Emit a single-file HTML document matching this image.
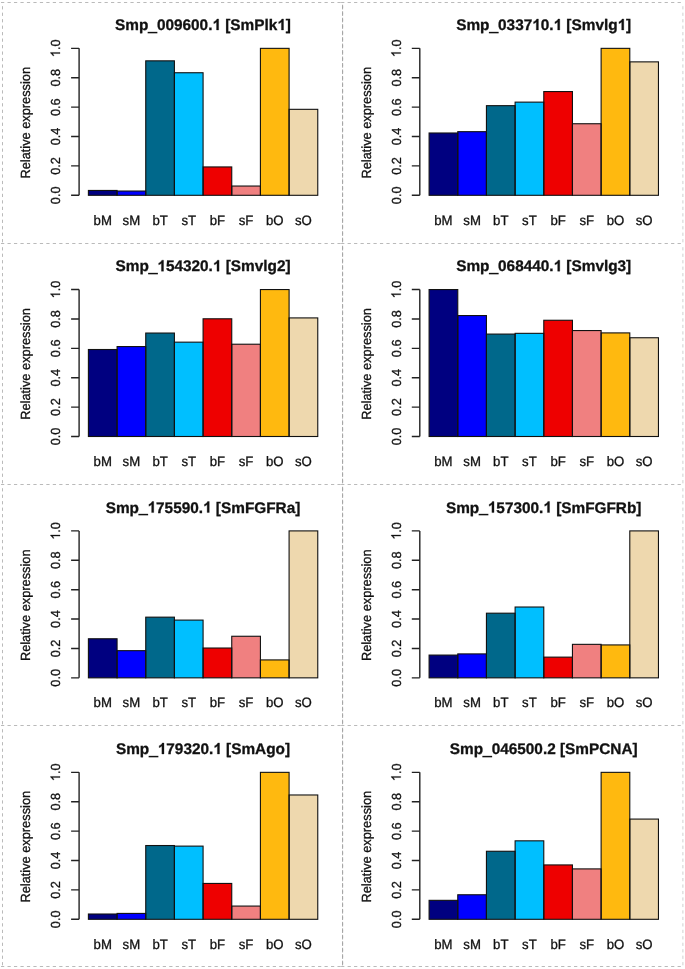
<!DOCTYPE html>
<html><head><meta charset="utf-8"><title>Relative expression</title>
<style>
html,body{margin:0;padding:0;background:#fff;}
svg{display:block;will-change:transform;text-rendering:geometricPrecision;font-family:"Liberation Sans",sans-serif;}
text{fill:#111;stroke:#111;stroke-width:0.3px;}
.g1{fill:#111;stroke:#111;}
</style></head><body>
<svg width="685" height="969" viewBox="0 0 685 969">
<rect width="685" height="969" fill="#fff"/>
<path d="M1.03 2.5H342.6" stroke="#bababa" stroke-width="1" stroke-dasharray="3.235 3.235" fill="none"/>
<path d="M341.13 2.5H682.9" stroke="#bababa" stroke-width="1" stroke-dasharray="3.235 3.235" fill="none"/>
<path d="M1.03 243.5H342.6" stroke="#bababa" stroke-width="1" stroke-dasharray="3.235 3.235" fill="none"/>
<path d="M341.13 243.5H682.9" stroke="#bababa" stroke-width="1" stroke-dasharray="3.235 3.235" fill="none"/>
<path d="M1.03 484.5H342.6" stroke="#bababa" stroke-width="1" stroke-dasharray="3.235 3.235" fill="none"/>
<path d="M341.13 484.5H682.9" stroke="#bababa" stroke-width="1" stroke-dasharray="3.235 3.235" fill="none"/>
<path d="M1.03 725.5H342.6" stroke="#bababa" stroke-width="1" stroke-dasharray="3.235 3.235" fill="none"/>
<path d="M341.13 725.5H682.9" stroke="#bababa" stroke-width="1" stroke-dasharray="3.235 3.235" fill="none"/>
<path d="M1.03 966.5H342.6" stroke="#bababa" stroke-width="1" stroke-dasharray="3.235 3.235" fill="none"/>
<path d="M341.13 966.5H682.9" stroke="#bababa" stroke-width="1" stroke-dasharray="3.235 3.235" fill="none"/>
<path d="M2.5 6.18V243.5" stroke="#bababa" stroke-width="1" stroke-dasharray="3.235 3.235" fill="none"/>
<path d="M342.6 6.18V243.5" stroke="#a4a4a4" stroke-width="1" stroke-dasharray="3.235 3.235" fill="none"/>
<path d="M342.6 4.78V243.5" stroke="#a4a4a4" stroke-width="1" stroke-dasharray="3.235 3.235" fill="none"/>
<path d="M682.9 6.18V243.5" stroke="#d0d0d0" stroke-width="1" stroke-dasharray="3.235 3.235" fill="none"/>
<path d="M2.5 247.18V484.5" stroke="#bababa" stroke-width="1" stroke-dasharray="3.235 3.235" fill="none"/>
<path d="M342.6 247.18V484.5" stroke="#a4a4a4" stroke-width="1" stroke-dasharray="3.235 3.235" fill="none"/>
<path d="M342.6 245.78V484.5" stroke="#a4a4a4" stroke-width="1" stroke-dasharray="3.235 3.235" fill="none"/>
<path d="M682.9 247.18V484.5" stroke="#d0d0d0" stroke-width="1" stroke-dasharray="3.235 3.235" fill="none"/>
<path d="M2.5 488.18V725.5" stroke="#bababa" stroke-width="1" stroke-dasharray="3.235 3.235" fill="none"/>
<path d="M342.6 488.18V725.5" stroke="#a4a4a4" stroke-width="1" stroke-dasharray="3.235 3.235" fill="none"/>
<path d="M342.6 486.78V725.5" stroke="#a4a4a4" stroke-width="1" stroke-dasharray="3.235 3.235" fill="none"/>
<path d="M682.9 488.18V725.5" stroke="#d0d0d0" stroke-width="1" stroke-dasharray="3.235 3.235" fill="none"/>
<path d="M2.5 729.18V966.5" stroke="#bababa" stroke-width="1" stroke-dasharray="3.235 3.235" fill="none"/>
<path d="M342.6 729.18V966.5" stroke="#a4a4a4" stroke-width="1" stroke-dasharray="3.235 3.235" fill="none"/>
<path d="M342.6 727.78V966.5" stroke="#a4a4a4" stroke-width="1" stroke-dasharray="3.235 3.235" fill="none"/>
<path d="M682.9 729.18V966.5" stroke="#d0d0d0" stroke-width="1" stroke-dasharray="3.235 3.235" fill="none"/>
<rect x="88.4" y="190.45" width="28.67" height="4.85" fill="#000080"/>
<rect x="117.07" y="191.04" width="28.67" height="4.26" fill="#0000FF"/>
<rect x="145.74" y="60.84" width="28.67" height="134.46" fill="#00688B"/>
<rect x="174.41" y="72.74" width="28.67" height="122.56" fill="#00BFFF"/>
<rect x="203.08" y="166.94" width="28.67" height="28.36" fill="#EE0000"/>
<rect x="231.75" y="186.04" width="28.67" height="9.26" fill="#F08080"/>
<rect x="260.42" y="48.35" width="28.67" height="146.95" fill="#FFB90F"/>
<rect x="289.09" y="109.33" width="28.67" height="85.97" fill="#EED8AE"/>
<rect x="88.4" y="190.45" width="28.67" height="4.85" fill="none" stroke="#111" stroke-width="1.1"/>
<rect x="117.07" y="191.04" width="28.67" height="4.26" fill="none" stroke="#111" stroke-width="1.1"/>
<rect x="145.74" y="60.84" width="28.67" height="134.46" fill="none" stroke="#111" stroke-width="1.1"/>
<rect x="174.41" y="72.74" width="28.67" height="122.56" fill="none" stroke="#111" stroke-width="1.1"/>
<rect x="203.08" y="166.94" width="28.67" height="28.36" fill="none" stroke="#111" stroke-width="1.1"/>
<rect x="231.75" y="186.04" width="28.67" height="9.26" fill="none" stroke="#111" stroke-width="1.1"/>
<rect x="260.42" y="48.35" width="28.67" height="146.95" fill="none" stroke="#111" stroke-width="1.1"/>
<rect x="289.09" y="109.33" width="28.67" height="85.97" fill="none" stroke="#111" stroke-width="1.1"/>
<path d="M79.1 195.3V48.35" stroke="#222" stroke-width="1.4" fill="none"/>
<path d="M71.1 195.3H79.1M71.1 165.91H79.1M71.1 136.52H79.1M71.1 107.13H79.1M71.1 77.74H79.1M71.1 48.35H79.1" stroke="#222" stroke-width="1.4" fill="none"/>
<g transform="translate(60,195.3) rotate(-90) scale(1,1.035)"><text x="-8.83" y="0" font-size="12.7">0.0</text></g>
<g transform="translate(60,165.91) rotate(-90) scale(1,1.035)"><text x="-8.83" y="0" font-size="12.7">0.2</text></g>
<g transform="translate(60,136.52) rotate(-90) scale(1,1.035)"><text x="-8.83" y="0" font-size="12.7">0.4</text></g>
<g transform="translate(60,107.13) rotate(-90) scale(1,1.035)"><text x="-8.83" y="0" font-size="12.7">0.6</text></g>
<g transform="translate(60,77.74) rotate(-90) scale(1,1.035)"><text x="-8.83" y="0" font-size="12.7">0.8</text></g>
<g transform="translate(60,48.35) rotate(-90) scale(1,1.035)"><text x="-8.83" y="0" font-size="12.7"> .0</text><path transform="translate(-8.83,0) scale(0.006201,-0.006201)" d="M763 0H583V1147Q518 1085 412 1023Q307 961 223 930V1104Q374 1175 487 1276Q600 1377 647 1472H763Z" class="g1" style="stroke-width:48.4px"/></g>
<g transform="translate(30,122.73) rotate(-90) scale(1,1.035)"><text x="-55.85" y="0" font-size="12.8">Relative expression</text></g>
<g transform="translate(102.74,224.8) scale(1,1.035)"><text x="-9.17" y="0" font-size="13.2">bM</text></g>
<g transform="translate(131.41,224.8) scale(1,1.035)"><text x="-8.8" y="0" font-size="13.2">sM</text></g>
<g transform="translate(160.08,224.8) scale(1,1.035)"><text x="-7.7" y="0" font-size="13.2">bT</text></g>
<g transform="translate(188.75,224.8) scale(1,1.035)"><text x="-7.33" y="0" font-size="13.2">sT</text></g>
<g transform="translate(217.42,224.8) scale(1,1.035)"><text x="-7.7" y="0" font-size="13.2">bF</text></g>
<g transform="translate(246.09,224.8) scale(1,1.035)"><text x="-7.33" y="0" font-size="13.2">sF</text></g>
<g transform="translate(274.75,224.8) scale(1,1.035)"><text x="-8.8" y="0" font-size="13.2">bO</text></g>
<g transform="translate(303.43,224.8) scale(1,1.035)"><text x="-8.43" y="0" font-size="13.2">sO</text></g>
<g transform="translate(203,30) scale(1,1.0)"><text x="-87.94" y="0" font-size="15.36" font-weight="bold">Smp<tspan dy="0.9" style="stroke-width:0.9px">_</tspan><tspan dy="-0.9">009600.  [SmPlk ]</tspan></text><path transform="translate(9.41,0) scale(0.007500,-0.007500)" d="M831 0H550V1059Q396 915 187 846V1101Q297 1137 426 1237Q555 1337 603 1470H831Z" class="g1" style="stroke-width:40.0px"/><path transform="translate(74.29,0) scale(0.007500,-0.007500)" d="M831 0H550V1059Q396 915 187 846V1101Q297 1137 426 1237Q555 1337 603 1470H831Z" class="g1" style="stroke-width:40.0px"/></g>
<rect x="429.1" y="132.99" width="28.67" height="62.31" fill="#000080"/>
<rect x="457.77" y="131.67" width="28.67" height="63.63" fill="#0000FF"/>
<rect x="486.44" y="105.66" width="28.67" height="89.64" fill="#00688B"/>
<rect x="515.11" y="102.13" width="28.67" height="93.17" fill="#00BFFF"/>
<rect x="543.78" y="91.55" width="28.67" height="103.75" fill="#EE0000"/>
<rect x="572.45" y="123.74" width="28.67" height="71.56" fill="#F08080"/>
<rect x="601.12" y="48.35" width="28.67" height="146.95" fill="#FFB90F"/>
<rect x="629.79" y="61.87" width="28.67" height="133.43" fill="#EED8AE"/>
<rect x="429.1" y="132.99" width="28.67" height="62.31" fill="none" stroke="#111" stroke-width="1.1"/>
<rect x="457.77" y="131.67" width="28.67" height="63.63" fill="none" stroke="#111" stroke-width="1.1"/>
<rect x="486.44" y="105.66" width="28.67" height="89.64" fill="none" stroke="#111" stroke-width="1.1"/>
<rect x="515.11" y="102.13" width="28.67" height="93.17" fill="none" stroke="#111" stroke-width="1.1"/>
<rect x="543.78" y="91.55" width="28.67" height="103.75" fill="none" stroke="#111" stroke-width="1.1"/>
<rect x="572.45" y="123.74" width="28.67" height="71.56" fill="none" stroke="#111" stroke-width="1.1"/>
<rect x="601.12" y="48.35" width="28.67" height="146.95" fill="none" stroke="#111" stroke-width="1.1"/>
<rect x="629.79" y="61.87" width="28.67" height="133.43" fill="none" stroke="#111" stroke-width="1.1"/>
<path d="M419.8 195.3V48.35" stroke="#222" stroke-width="1.4" fill="none"/>
<path d="M411.8 195.3H419.8M411.8 165.91H419.8M411.8 136.52H419.8M411.8 107.13H419.8M411.8 77.74H419.8M411.8 48.35H419.8" stroke="#222" stroke-width="1.4" fill="none"/>
<g transform="translate(400.7,195.3) rotate(-90) scale(1,1.035)"><text x="-8.83" y="0" font-size="12.7">0.0</text></g>
<g transform="translate(400.7,165.91) rotate(-90) scale(1,1.035)"><text x="-8.83" y="0" font-size="12.7">0.2</text></g>
<g transform="translate(400.7,136.52) rotate(-90) scale(1,1.035)"><text x="-8.83" y="0" font-size="12.7">0.4</text></g>
<g transform="translate(400.7,107.13) rotate(-90) scale(1,1.035)"><text x="-8.83" y="0" font-size="12.7">0.6</text></g>
<g transform="translate(400.7,77.74) rotate(-90) scale(1,1.035)"><text x="-8.83" y="0" font-size="12.7">0.8</text></g>
<g transform="translate(400.7,48.35) rotate(-90) scale(1,1.035)"><text x="-8.83" y="0" font-size="12.7"> .0</text><path transform="translate(-8.83,0) scale(0.006201,-0.006201)" d="M763 0H583V1147Q518 1085 412 1023Q307 961 223 930V1104Q374 1175 487 1276Q600 1377 647 1472H763Z" class="g1" style="stroke-width:48.4px"/></g>
<g transform="translate(370.7,122.73) rotate(-90) scale(1,1.035)"><text x="-55.85" y="0" font-size="12.8">Relative expression</text></g>
<g transform="translate(443.44,224.8) scale(1,1.035)"><text x="-9.17" y="0" font-size="13.2">bM</text></g>
<g transform="translate(472.11,224.8) scale(1,1.035)"><text x="-8.8" y="0" font-size="13.2">sM</text></g>
<g transform="translate(500.78,224.8) scale(1,1.035)"><text x="-7.7" y="0" font-size="13.2">bT</text></g>
<g transform="translate(529.45,224.8) scale(1,1.035)"><text x="-7.33" y="0" font-size="13.2">sT</text></g>
<g transform="translate(558.12,224.8) scale(1,1.035)"><text x="-7.7" y="0" font-size="13.2">bF</text></g>
<g transform="translate(586.79,224.8) scale(1,1.035)"><text x="-7.33" y="0" font-size="13.2">sF</text></g>
<g transform="translate(615.46,224.8) scale(1,1.035)"><text x="-8.8" y="0" font-size="13.2">bO</text></g>
<g transform="translate(644.12,224.8) scale(1,1.035)"><text x="-8.43" y="0" font-size="13.2">sO</text></g>
<g transform="translate(543.7,30) scale(1,1.0)"><text x="-87.51" y="0" font-size="15.36" font-weight="bold">Smp<tspan dy="0.9" style="stroke-width:0.9px">_</tspan><tspan dy="-0.9">0337 0.  [Smvlg ]</tspan></text><path transform="translate(-11.52,0) scale(0.007500,-0.007500)" d="M831 0H550V1059Q396 915 187 846V1101Q297 1137 426 1237Q555 1337 603 1470H831Z" class="g1" style="stroke-width:40.0px"/><path transform="translate(9.84,0) scale(0.007500,-0.007500)" d="M831 0H550V1059Q396 915 187 846V1101Q297 1137 426 1237Q555 1337 603 1470H831Z" class="g1" style="stroke-width:40.0px"/><path transform="translate(73.86,0) scale(0.007500,-0.007500)" d="M831 0H550V1059Q396 915 187 846V1101Q297 1137 426 1237Q555 1337 603 1470H831Z" class="g1" style="stroke-width:40.0px"/></g>
<rect x="88.4" y="349.51" width="28.67" height="86.99" fill="#000080"/>
<rect x="117.07" y="346.57" width="28.67" height="89.93" fill="#0000FF"/>
<rect x="145.74" y="333.05" width="28.67" height="103.45" fill="#00688B"/>
<rect x="174.41" y="342.16" width="28.67" height="94.34" fill="#00BFFF"/>
<rect x="203.08" y="318.79" width="28.67" height="117.71" fill="#EE0000"/>
<rect x="231.75" y="344.22" width="28.67" height="92.28" fill="#F08080"/>
<rect x="260.42" y="289.55" width="28.67" height="146.95" fill="#FFB90F"/>
<rect x="289.09" y="317.91" width="28.67" height="118.59" fill="#EED8AE"/>
<rect x="88.4" y="349.51" width="28.67" height="86.99" fill="none" stroke="#111" stroke-width="1.1"/>
<rect x="117.07" y="346.57" width="28.67" height="89.93" fill="none" stroke="#111" stroke-width="1.1"/>
<rect x="145.74" y="333.05" width="28.67" height="103.45" fill="none" stroke="#111" stroke-width="1.1"/>
<rect x="174.41" y="342.16" width="28.67" height="94.34" fill="none" stroke="#111" stroke-width="1.1"/>
<rect x="203.08" y="318.79" width="28.67" height="117.71" fill="none" stroke="#111" stroke-width="1.1"/>
<rect x="231.75" y="344.22" width="28.67" height="92.28" fill="none" stroke="#111" stroke-width="1.1"/>
<rect x="260.42" y="289.55" width="28.67" height="146.95" fill="none" stroke="#111" stroke-width="1.1"/>
<rect x="289.09" y="317.91" width="28.67" height="118.59" fill="none" stroke="#111" stroke-width="1.1"/>
<path d="M79.1 436.5V289.55" stroke="#222" stroke-width="1.4" fill="none"/>
<path d="M71.1 436.5H79.1M71.1 407.11H79.1M71.1 377.72H79.1M71.1 348.33H79.1M71.1 318.94H79.1M71.1 289.55H79.1" stroke="#222" stroke-width="1.4" fill="none"/>
<g transform="translate(60,436.5) rotate(-90) scale(1,1.035)"><text x="-8.83" y="0" font-size="12.7">0.0</text></g>
<g transform="translate(60,407.11) rotate(-90) scale(1,1.035)"><text x="-8.83" y="0" font-size="12.7">0.2</text></g>
<g transform="translate(60,377.72) rotate(-90) scale(1,1.035)"><text x="-8.83" y="0" font-size="12.7">0.4</text></g>
<g transform="translate(60,348.33) rotate(-90) scale(1,1.035)"><text x="-8.83" y="0" font-size="12.7">0.6</text></g>
<g transform="translate(60,318.94) rotate(-90) scale(1,1.035)"><text x="-8.83" y="0" font-size="12.7">0.8</text></g>
<g transform="translate(60,289.55) rotate(-90) scale(1,1.035)"><text x="-8.83" y="0" font-size="12.7"> .0</text><path transform="translate(-8.83,0) scale(0.006201,-0.006201)" d="M763 0H583V1147Q518 1085 412 1023Q307 961 223 930V1104Q374 1175 487 1276Q600 1377 647 1472H763Z" class="g1" style="stroke-width:48.4px"/></g>
<g transform="translate(30,363.92) rotate(-90) scale(1,1.035)"><text x="-55.85" y="0" font-size="12.8">Relative expression</text></g>
<g transform="translate(102.74,466) scale(1,1.035)"><text x="-9.17" y="0" font-size="13.2">bM</text></g>
<g transform="translate(131.41,466) scale(1,1.035)"><text x="-8.8" y="0" font-size="13.2">sM</text></g>
<g transform="translate(160.08,466) scale(1,1.035)"><text x="-7.7" y="0" font-size="13.2">bT</text></g>
<g transform="translate(188.75,466) scale(1,1.035)"><text x="-7.33" y="0" font-size="13.2">sT</text></g>
<g transform="translate(217.42,466) scale(1,1.035)"><text x="-7.7" y="0" font-size="13.2">bF</text></g>
<g transform="translate(246.09,466) scale(1,1.035)"><text x="-7.33" y="0" font-size="13.2">sF</text></g>
<g transform="translate(274.75,466) scale(1,1.035)"><text x="-8.8" y="0" font-size="13.2">bO</text></g>
<g transform="translate(303.43,466) scale(1,1.035)"><text x="-8.43" y="0" font-size="13.2">sO</text></g>
<g transform="translate(203,271.2) scale(1,1.0)"><text x="-87.51" y="0" font-size="15.36" font-weight="bold">Smp<tspan dy="0.9" style="stroke-width:0.9px">_</tspan><tspan dy="-0.9"> 54320.  [Smvlg2]</tspan></text><path transform="translate(-45.69,0) scale(0.007500,-0.007500)" d="M831 0H550V1059Q396 915 187 846V1101Q297 1137 426 1237Q555 1337 603 1470H831Z" class="g1" style="stroke-width:40.0px"/><path transform="translate(9.84,0) scale(0.007500,-0.007500)" d="M831 0H550V1059Q396 915 187 846V1101Q297 1137 426 1237Q555 1337 603 1470H831Z" class="g1" style="stroke-width:40.0px"/></g>
<rect x="429.1" y="289.55" width="28.67" height="146.95" fill="#000080"/>
<rect x="457.77" y="315.56" width="28.67" height="120.94" fill="#0000FF"/>
<rect x="486.44" y="334.08" width="28.67" height="102.42" fill="#00688B"/>
<rect x="515.11" y="333.34" width="28.67" height="103.16" fill="#00BFFF"/>
<rect x="543.78" y="320.26" width="28.67" height="116.24" fill="#EE0000"/>
<rect x="572.45" y="330.55" width="28.67" height="105.95" fill="#F08080"/>
<rect x="601.12" y="332.9" width="28.67" height="103.6" fill="#FFB90F"/>
<rect x="629.79" y="337.75" width="28.67" height="98.75" fill="#EED8AE"/>
<rect x="429.1" y="289.55" width="28.67" height="146.95" fill="none" stroke="#111" stroke-width="1.1"/>
<rect x="457.77" y="315.56" width="28.67" height="120.94" fill="none" stroke="#111" stroke-width="1.1"/>
<rect x="486.44" y="334.08" width="28.67" height="102.42" fill="none" stroke="#111" stroke-width="1.1"/>
<rect x="515.11" y="333.34" width="28.67" height="103.16" fill="none" stroke="#111" stroke-width="1.1"/>
<rect x="543.78" y="320.26" width="28.67" height="116.24" fill="none" stroke="#111" stroke-width="1.1"/>
<rect x="572.45" y="330.55" width="28.67" height="105.95" fill="none" stroke="#111" stroke-width="1.1"/>
<rect x="601.12" y="332.9" width="28.67" height="103.6" fill="none" stroke="#111" stroke-width="1.1"/>
<rect x="629.79" y="337.75" width="28.67" height="98.75" fill="none" stroke="#111" stroke-width="1.1"/>
<path d="M419.8 436.5V289.55" stroke="#222" stroke-width="1.4" fill="none"/>
<path d="M411.8 436.5H419.8M411.8 407.11H419.8M411.8 377.72H419.8M411.8 348.33H419.8M411.8 318.94H419.8M411.8 289.55H419.8" stroke="#222" stroke-width="1.4" fill="none"/>
<g transform="translate(400.7,436.5) rotate(-90) scale(1,1.035)"><text x="-8.83" y="0" font-size="12.7">0.0</text></g>
<g transform="translate(400.7,407.11) rotate(-90) scale(1,1.035)"><text x="-8.83" y="0" font-size="12.7">0.2</text></g>
<g transform="translate(400.7,377.72) rotate(-90) scale(1,1.035)"><text x="-8.83" y="0" font-size="12.7">0.4</text></g>
<g transform="translate(400.7,348.33) rotate(-90) scale(1,1.035)"><text x="-8.83" y="0" font-size="12.7">0.6</text></g>
<g transform="translate(400.7,318.94) rotate(-90) scale(1,1.035)"><text x="-8.83" y="0" font-size="12.7">0.8</text></g>
<g transform="translate(400.7,289.55) rotate(-90) scale(1,1.035)"><text x="-8.83" y="0" font-size="12.7"> .0</text><path transform="translate(-8.83,0) scale(0.006201,-0.006201)" d="M763 0H583V1147Q518 1085 412 1023Q307 961 223 930V1104Q374 1175 487 1276Q600 1377 647 1472H763Z" class="g1" style="stroke-width:48.4px"/></g>
<g transform="translate(370.7,363.92) rotate(-90) scale(1,1.035)"><text x="-55.85" y="0" font-size="12.8">Relative expression</text></g>
<g transform="translate(443.44,466) scale(1,1.035)"><text x="-9.17" y="0" font-size="13.2">bM</text></g>
<g transform="translate(472.11,466) scale(1,1.035)"><text x="-8.8" y="0" font-size="13.2">sM</text></g>
<g transform="translate(500.78,466) scale(1,1.035)"><text x="-7.7" y="0" font-size="13.2">bT</text></g>
<g transform="translate(529.45,466) scale(1,1.035)"><text x="-7.33" y="0" font-size="13.2">sT</text></g>
<g transform="translate(558.12,466) scale(1,1.035)"><text x="-7.7" y="0" font-size="13.2">bF</text></g>
<g transform="translate(586.79,466) scale(1,1.035)"><text x="-7.33" y="0" font-size="13.2">sF</text></g>
<g transform="translate(615.46,466) scale(1,1.035)"><text x="-8.8" y="0" font-size="13.2">bO</text></g>
<g transform="translate(644.12,466) scale(1,1.035)"><text x="-8.43" y="0" font-size="13.2">sO</text></g>
<g transform="translate(543.7,271.2) scale(1,1.0)"><text x="-87.51" y="0" font-size="15.36" font-weight="bold">Smp<tspan dy="0.9" style="stroke-width:0.9px">_</tspan><tspan dy="-0.9">068440.  [Smvlg3]</tspan></text><path transform="translate(9.84,0) scale(0.007500,-0.007500)" d="M831 0H550V1059Q396 915 187 846V1101Q297 1137 426 1237Q555 1337 603 1470H831Z" class="g1" style="stroke-width:40.0px"/></g>
<rect x="88.4" y="638.76" width="28.67" height="39.09" fill="#000080"/>
<rect x="117.07" y="650.66" width="28.67" height="27.19" fill="#0000FF"/>
<rect x="145.74" y="617.16" width="28.67" height="60.69" fill="#00688B"/>
<rect x="174.41" y="620.1" width="28.67" height="57.75" fill="#00BFFF"/>
<rect x="203.08" y="648.02" width="28.67" height="29.83" fill="#EE0000"/>
<rect x="231.75" y="636.26" width="28.67" height="41.59" fill="#F08080"/>
<rect x="260.42" y="659.92" width="28.67" height="17.93" fill="#FFB90F"/>
<rect x="289.09" y="530.9" width="28.67" height="146.95" fill="#EED8AE"/>
<rect x="88.4" y="638.76" width="28.67" height="39.09" fill="none" stroke="#111" stroke-width="1.1"/>
<rect x="117.07" y="650.66" width="28.67" height="27.19" fill="none" stroke="#111" stroke-width="1.1"/>
<rect x="145.74" y="617.16" width="28.67" height="60.69" fill="none" stroke="#111" stroke-width="1.1"/>
<rect x="174.41" y="620.1" width="28.67" height="57.75" fill="none" stroke="#111" stroke-width="1.1"/>
<rect x="203.08" y="648.02" width="28.67" height="29.83" fill="none" stroke="#111" stroke-width="1.1"/>
<rect x="231.75" y="636.26" width="28.67" height="41.59" fill="none" stroke="#111" stroke-width="1.1"/>
<rect x="260.42" y="659.92" width="28.67" height="17.93" fill="none" stroke="#111" stroke-width="1.1"/>
<rect x="289.09" y="530.9" width="28.67" height="146.95" fill="none" stroke="#111" stroke-width="1.1"/>
<path d="M79.1 677.85V530.9" stroke="#222" stroke-width="1.4" fill="none"/>
<path d="M71.1 677.85H79.1M71.1 648.46H79.1M71.1 619.07H79.1M71.1 589.68H79.1M71.1 560.29H79.1M71.1 530.9H79.1" stroke="#222" stroke-width="1.4" fill="none"/>
<g transform="translate(60,677.85) rotate(-90) scale(1,1.035)"><text x="-8.83" y="0" font-size="12.7">0.0</text></g>
<g transform="translate(60,648.46) rotate(-90) scale(1,1.035)"><text x="-8.83" y="0" font-size="12.7">0.2</text></g>
<g transform="translate(60,619.07) rotate(-90) scale(1,1.035)"><text x="-8.83" y="0" font-size="12.7">0.4</text></g>
<g transform="translate(60,589.68) rotate(-90) scale(1,1.035)"><text x="-8.83" y="0" font-size="12.7">0.6</text></g>
<g transform="translate(60,560.29) rotate(-90) scale(1,1.035)"><text x="-8.83" y="0" font-size="12.7">0.8</text></g>
<g transform="translate(60,530.9) rotate(-90) scale(1,1.035)"><text x="-8.83" y="0" font-size="12.7"> .0</text><path transform="translate(-8.83,0) scale(0.006201,-0.006201)" d="M763 0H583V1147Q518 1085 412 1023Q307 961 223 930V1104Q374 1175 487 1276Q600 1377 647 1472H763Z" class="g1" style="stroke-width:48.4px"/></g>
<g transform="translate(30,605.27) rotate(-90) scale(1,1.035)"><text x="-55.85" y="0" font-size="12.8">Relative expression</text></g>
<g transform="translate(102.74,707.35) scale(1,1.035)"><text x="-9.17" y="0" font-size="13.2">bM</text></g>
<g transform="translate(131.41,707.35) scale(1,1.035)"><text x="-8.8" y="0" font-size="13.2">sM</text></g>
<g transform="translate(160.08,707.35) scale(1,1.035)"><text x="-7.7" y="0" font-size="13.2">bT</text></g>
<g transform="translate(188.75,707.35) scale(1,1.035)"><text x="-7.33" y="0" font-size="13.2">sT</text></g>
<g transform="translate(217.42,707.35) scale(1,1.035)"><text x="-7.7" y="0" font-size="13.2">bF</text></g>
<g transform="translate(246.09,707.35) scale(1,1.035)"><text x="-7.33" y="0" font-size="13.2">sF</text></g>
<g transform="translate(274.75,707.35) scale(1,1.035)"><text x="-8.8" y="0" font-size="13.2">bO</text></g>
<g transform="translate(303.43,707.35) scale(1,1.035)"><text x="-8.43" y="0" font-size="13.2">sO</text></g>
<g transform="translate(203,512.55) scale(1,1.0)"><text x="-97.32" y="0" font-size="15.36" font-weight="bold">Smp<tspan dy="0.9" style="stroke-width:0.9px">_</tspan><tspan dy="-0.9"> 75590.  [SmFGFRa]</tspan></text><path transform="translate(-55.49,0) scale(0.007500,-0.007500)" d="M831 0H550V1059Q396 915 187 846V1101Q297 1137 426 1237Q555 1337 603 1470H831Z" class="g1" style="stroke-width:40.0px"/><path transform="translate(0.03,0) scale(0.007500,-0.007500)" d="M831 0H550V1059Q396 915 187 846V1101Q297 1137 426 1237Q555 1337 603 1470H831Z" class="g1" style="stroke-width:40.0px"/></g>
<rect x="429.1" y="655.07" width="28.67" height="22.78" fill="#000080"/>
<rect x="457.77" y="653.9" width="28.67" height="23.95" fill="#0000FF"/>
<rect x="486.44" y="613.19" width="28.67" height="64.66" fill="#00688B"/>
<rect x="515.11" y="607.02" width="28.67" height="70.83" fill="#00BFFF"/>
<rect x="543.78" y="657.13" width="28.67" height="20.72" fill="#EE0000"/>
<rect x="572.45" y="644.35" width="28.67" height="33.5" fill="#F08080"/>
<rect x="601.12" y="644.93" width="28.67" height="32.92" fill="#FFB90F"/>
<rect x="629.79" y="530.9" width="28.67" height="146.95" fill="#EED8AE"/>
<rect x="429.1" y="655.07" width="28.67" height="22.78" fill="none" stroke="#111" stroke-width="1.1"/>
<rect x="457.77" y="653.9" width="28.67" height="23.95" fill="none" stroke="#111" stroke-width="1.1"/>
<rect x="486.44" y="613.19" width="28.67" height="64.66" fill="none" stroke="#111" stroke-width="1.1"/>
<rect x="515.11" y="607.02" width="28.67" height="70.83" fill="none" stroke="#111" stroke-width="1.1"/>
<rect x="543.78" y="657.13" width="28.67" height="20.72" fill="none" stroke="#111" stroke-width="1.1"/>
<rect x="572.45" y="644.35" width="28.67" height="33.5" fill="none" stroke="#111" stroke-width="1.1"/>
<rect x="601.12" y="644.93" width="28.67" height="32.92" fill="none" stroke="#111" stroke-width="1.1"/>
<rect x="629.79" y="530.9" width="28.67" height="146.95" fill="none" stroke="#111" stroke-width="1.1"/>
<path d="M419.8 677.85V530.9" stroke="#222" stroke-width="1.4" fill="none"/>
<path d="M411.8 677.85H419.8M411.8 648.46H419.8M411.8 619.07H419.8M411.8 589.68H419.8M411.8 560.29H419.8M411.8 530.9H419.8" stroke="#222" stroke-width="1.4" fill="none"/>
<g transform="translate(400.7,677.85) rotate(-90) scale(1,1.035)"><text x="-8.83" y="0" font-size="12.7">0.0</text></g>
<g transform="translate(400.7,648.46) rotate(-90) scale(1,1.035)"><text x="-8.83" y="0" font-size="12.7">0.2</text></g>
<g transform="translate(400.7,619.07) rotate(-90) scale(1,1.035)"><text x="-8.83" y="0" font-size="12.7">0.4</text></g>
<g transform="translate(400.7,589.68) rotate(-90) scale(1,1.035)"><text x="-8.83" y="0" font-size="12.7">0.6</text></g>
<g transform="translate(400.7,560.29) rotate(-90) scale(1,1.035)"><text x="-8.83" y="0" font-size="12.7">0.8</text></g>
<g transform="translate(400.7,530.9) rotate(-90) scale(1,1.035)"><text x="-8.83" y="0" font-size="12.7"> .0</text><path transform="translate(-8.83,0) scale(0.006201,-0.006201)" d="M763 0H583V1147Q518 1085 412 1023Q307 961 223 930V1104Q374 1175 487 1276Q600 1377 647 1472H763Z" class="g1" style="stroke-width:48.4px"/></g>
<g transform="translate(370.7,605.27) rotate(-90) scale(1,1.035)"><text x="-55.85" y="0" font-size="12.8">Relative expression</text></g>
<g transform="translate(443.44,707.35) scale(1,1.035)"><text x="-9.17" y="0" font-size="13.2">bM</text></g>
<g transform="translate(472.11,707.35) scale(1,1.035)"><text x="-8.8" y="0" font-size="13.2">sM</text></g>
<g transform="translate(500.78,707.35) scale(1,1.035)"><text x="-7.7" y="0" font-size="13.2">bT</text></g>
<g transform="translate(529.45,707.35) scale(1,1.035)"><text x="-7.33" y="0" font-size="13.2">sT</text></g>
<g transform="translate(558.12,707.35) scale(1,1.035)"><text x="-7.7" y="0" font-size="13.2">bF</text></g>
<g transform="translate(586.79,707.35) scale(1,1.035)"><text x="-7.33" y="0" font-size="13.2">sF</text></g>
<g transform="translate(615.46,707.35) scale(1,1.035)"><text x="-8.8" y="0" font-size="13.2">bO</text></g>
<g transform="translate(644.12,707.35) scale(1,1.035)"><text x="-8.43" y="0" font-size="13.2">sO</text></g>
<g transform="translate(543.7,512.55) scale(1,1.0)"><text x="-97.74" y="0" font-size="15.36" font-weight="bold">Smp<tspan dy="0.9" style="stroke-width:0.9px">_</tspan><tspan dy="-0.9"> 57300.  [SmFGFRb]</tspan></text><path transform="translate(-55.91,0) scale(0.007500,-0.007500)" d="M831 0H550V1059Q396 915 187 846V1101Q297 1137 426 1237Q555 1337 603 1470H831Z" class="g1" style="stroke-width:40.0px"/><path transform="translate(-0.39,0) scale(0.007500,-0.007500)" d="M831 0H550V1059Q396 915 187 846V1101Q297 1137 426 1237Q555 1337 603 1470H831Z" class="g1" style="stroke-width:40.0px"/></g>
<rect x="88.4" y="914.01" width="28.67" height="5.29" fill="#000080"/>
<rect x="117.07" y="913.42" width="28.67" height="5.88" fill="#0000FF"/>
<rect x="145.74" y="845.53" width="28.67" height="73.77" fill="#00688B"/>
<rect x="174.41" y="846.12" width="28.67" height="73.18" fill="#00BFFF"/>
<rect x="203.08" y="883.44" width="28.67" height="35.86" fill="#EE0000"/>
<rect x="231.75" y="906.07" width="28.67" height="13.23" fill="#F08080"/>
<rect x="260.42" y="772.35" width="28.67" height="146.95" fill="#FFB90F"/>
<rect x="289.09" y="794.98" width="28.67" height="124.32" fill="#EED8AE"/>
<rect x="88.4" y="914.01" width="28.67" height="5.29" fill="none" stroke="#111" stroke-width="1.1"/>
<rect x="117.07" y="913.42" width="28.67" height="5.88" fill="none" stroke="#111" stroke-width="1.1"/>
<rect x="145.74" y="845.53" width="28.67" height="73.77" fill="none" stroke="#111" stroke-width="1.1"/>
<rect x="174.41" y="846.12" width="28.67" height="73.18" fill="none" stroke="#111" stroke-width="1.1"/>
<rect x="203.08" y="883.44" width="28.67" height="35.86" fill="none" stroke="#111" stroke-width="1.1"/>
<rect x="231.75" y="906.07" width="28.67" height="13.23" fill="none" stroke="#111" stroke-width="1.1"/>
<rect x="260.42" y="772.35" width="28.67" height="146.95" fill="none" stroke="#111" stroke-width="1.1"/>
<rect x="289.09" y="794.98" width="28.67" height="124.32" fill="none" stroke="#111" stroke-width="1.1"/>
<path d="M79.1 919.3V772.35" stroke="#222" stroke-width="1.4" fill="none"/>
<path d="M71.1 919.3H79.1M71.1 889.91H79.1M71.1 860.52H79.1M71.1 831.13H79.1M71.1 801.74H79.1M71.1 772.35H79.1" stroke="#222" stroke-width="1.4" fill="none"/>
<g transform="translate(60,919.3) rotate(-90) scale(1,1.035)"><text x="-8.83" y="0" font-size="12.7">0.0</text></g>
<g transform="translate(60,889.91) rotate(-90) scale(1,1.035)"><text x="-8.83" y="0" font-size="12.7">0.2</text></g>
<g transform="translate(60,860.52) rotate(-90) scale(1,1.035)"><text x="-8.83" y="0" font-size="12.7">0.4</text></g>
<g transform="translate(60,831.13) rotate(-90) scale(1,1.035)"><text x="-8.83" y="0" font-size="12.7">0.6</text></g>
<g transform="translate(60,801.74) rotate(-90) scale(1,1.035)"><text x="-8.83" y="0" font-size="12.7">0.8</text></g>
<g transform="translate(60,772.35) rotate(-90) scale(1,1.035)"><text x="-8.83" y="0" font-size="12.7"> .0</text><path transform="translate(-8.83,0) scale(0.006201,-0.006201)" d="M763 0H583V1147Q518 1085 412 1023Q307 961 223 930V1104Q374 1175 487 1276Q600 1377 647 1472H763Z" class="g1" style="stroke-width:48.4px"/></g>
<g transform="translate(30,846.72) rotate(-90) scale(1,1.035)"><text x="-55.85" y="0" font-size="12.8">Relative expression</text></g>
<g transform="translate(102.74,948.8) scale(1,1.035)"><text x="-9.17" y="0" font-size="13.2">bM</text></g>
<g transform="translate(131.41,948.8) scale(1,1.035)"><text x="-8.8" y="0" font-size="13.2">sM</text></g>
<g transform="translate(160.08,948.8) scale(1,1.035)"><text x="-7.7" y="0" font-size="13.2">bT</text></g>
<g transform="translate(188.75,948.8) scale(1,1.035)"><text x="-7.33" y="0" font-size="13.2">sT</text></g>
<g transform="translate(217.42,948.8) scale(1,1.035)"><text x="-7.7" y="0" font-size="13.2">bF</text></g>
<g transform="translate(246.09,948.8) scale(1,1.035)"><text x="-7.33" y="0" font-size="13.2">sF</text></g>
<g transform="translate(274.75,948.8) scale(1,1.035)"><text x="-8.8" y="0" font-size="13.2">bO</text></g>
<g transform="translate(303.43,948.8) scale(1,1.035)"><text x="-8.43" y="0" font-size="13.2">sO</text></g>
<g transform="translate(203,754) scale(1,1.0)"><text x="-87.08" y="0" font-size="15.36" font-weight="bold">Smp<tspan dy="0.9" style="stroke-width:0.9px">_</tspan><tspan dy="-0.9"> 79320.  [SmAgo]</tspan></text><path transform="translate(-45.25,0) scale(0.007500,-0.007500)" d="M831 0H550V1059Q396 915 187 846V1101Q297 1137 426 1237Q555 1337 603 1470H831Z" class="g1" style="stroke-width:40.0px"/><path transform="translate(10.27,0) scale(0.007500,-0.007500)" d="M831 0H550V1059Q396 915 187 846V1101Q297 1137 426 1237Q555 1337 603 1470H831Z" class="g1" style="stroke-width:40.0px"/></g>
<rect x="429.1" y="900.34" width="28.67" height="18.96" fill="#000080"/>
<rect x="457.77" y="894.76" width="28.67" height="24.54" fill="#0000FF"/>
<rect x="486.44" y="851.26" width="28.67" height="68.04" fill="#00688B"/>
<rect x="515.11" y="840.83" width="28.67" height="78.47" fill="#00BFFF"/>
<rect x="543.78" y="864.93" width="28.67" height="54.37" fill="#EE0000"/>
<rect x="572.45" y="868.9" width="28.67" height="50.4" fill="#F08080"/>
<rect x="601.12" y="772.35" width="28.67" height="146.95" fill="#FFB90F"/>
<rect x="629.79" y="819.08" width="28.67" height="100.22" fill="#EED8AE"/>
<rect x="429.1" y="900.34" width="28.67" height="18.96" fill="none" stroke="#111" stroke-width="1.1"/>
<rect x="457.77" y="894.76" width="28.67" height="24.54" fill="none" stroke="#111" stroke-width="1.1"/>
<rect x="486.44" y="851.26" width="28.67" height="68.04" fill="none" stroke="#111" stroke-width="1.1"/>
<rect x="515.11" y="840.83" width="28.67" height="78.47" fill="none" stroke="#111" stroke-width="1.1"/>
<rect x="543.78" y="864.93" width="28.67" height="54.37" fill="none" stroke="#111" stroke-width="1.1"/>
<rect x="572.45" y="868.9" width="28.67" height="50.4" fill="none" stroke="#111" stroke-width="1.1"/>
<rect x="601.12" y="772.35" width="28.67" height="146.95" fill="none" stroke="#111" stroke-width="1.1"/>
<rect x="629.79" y="819.08" width="28.67" height="100.22" fill="none" stroke="#111" stroke-width="1.1"/>
<path d="M419.8 919.3V772.35" stroke="#222" stroke-width="1.4" fill="none"/>
<path d="M411.8 919.3H419.8M411.8 889.91H419.8M411.8 860.52H419.8M411.8 831.13H419.8M411.8 801.74H419.8M411.8 772.35H419.8" stroke="#222" stroke-width="1.4" fill="none"/>
<g transform="translate(400.7,919.3) rotate(-90) scale(1,1.035)"><text x="-8.83" y="0" font-size="12.7">0.0</text></g>
<g transform="translate(400.7,889.91) rotate(-90) scale(1,1.035)"><text x="-8.83" y="0" font-size="12.7">0.2</text></g>
<g transform="translate(400.7,860.52) rotate(-90) scale(1,1.035)"><text x="-8.83" y="0" font-size="12.7">0.4</text></g>
<g transform="translate(400.7,831.13) rotate(-90) scale(1,1.035)"><text x="-8.83" y="0" font-size="12.7">0.6</text></g>
<g transform="translate(400.7,801.74) rotate(-90) scale(1,1.035)"><text x="-8.83" y="0" font-size="12.7">0.8</text></g>
<g transform="translate(400.7,772.35) rotate(-90) scale(1,1.035)"><text x="-8.83" y="0" font-size="12.7"> .0</text><path transform="translate(-8.83,0) scale(0.006201,-0.006201)" d="M763 0H583V1147Q518 1085 412 1023Q307 961 223 930V1104Q374 1175 487 1276Q600 1377 647 1472H763Z" class="g1" style="stroke-width:48.4px"/></g>
<g transform="translate(370.7,846.72) rotate(-90) scale(1,1.035)"><text x="-55.85" y="0" font-size="12.8">Relative expression</text></g>
<g transform="translate(443.44,948.8) scale(1,1.035)"><text x="-9.17" y="0" font-size="13.2">bM</text></g>
<g transform="translate(472.11,948.8) scale(1,1.035)"><text x="-8.8" y="0" font-size="13.2">sM</text></g>
<g transform="translate(500.78,948.8) scale(1,1.035)"><text x="-7.7" y="0" font-size="13.2">bT</text></g>
<g transform="translate(529.45,948.8) scale(1,1.035)"><text x="-7.33" y="0" font-size="13.2">sT</text></g>
<g transform="translate(558.12,948.8) scale(1,1.035)"><text x="-7.7" y="0" font-size="13.2">bF</text></g>
<g transform="translate(586.79,948.8) scale(1,1.035)"><text x="-7.33" y="0" font-size="13.2">sF</text></g>
<g transform="translate(615.46,948.8) scale(1,1.035)"><text x="-8.8" y="0" font-size="13.2">bO</text></g>
<g transform="translate(644.12,948.8) scale(1,1.035)"><text x="-8.43" y="0" font-size="13.2">sO</text></g>
<g transform="translate(543.7,754) scale(1,1.0)"><text x="-93.91" y="0" font-size="15.36" font-weight="bold">Smp<tspan dy="0.9" style="stroke-width:0.9px">_</tspan><tspan dy="-0.9">046500.2 [SmPCNA]</tspan></text></g>
</svg>
</body></html>
